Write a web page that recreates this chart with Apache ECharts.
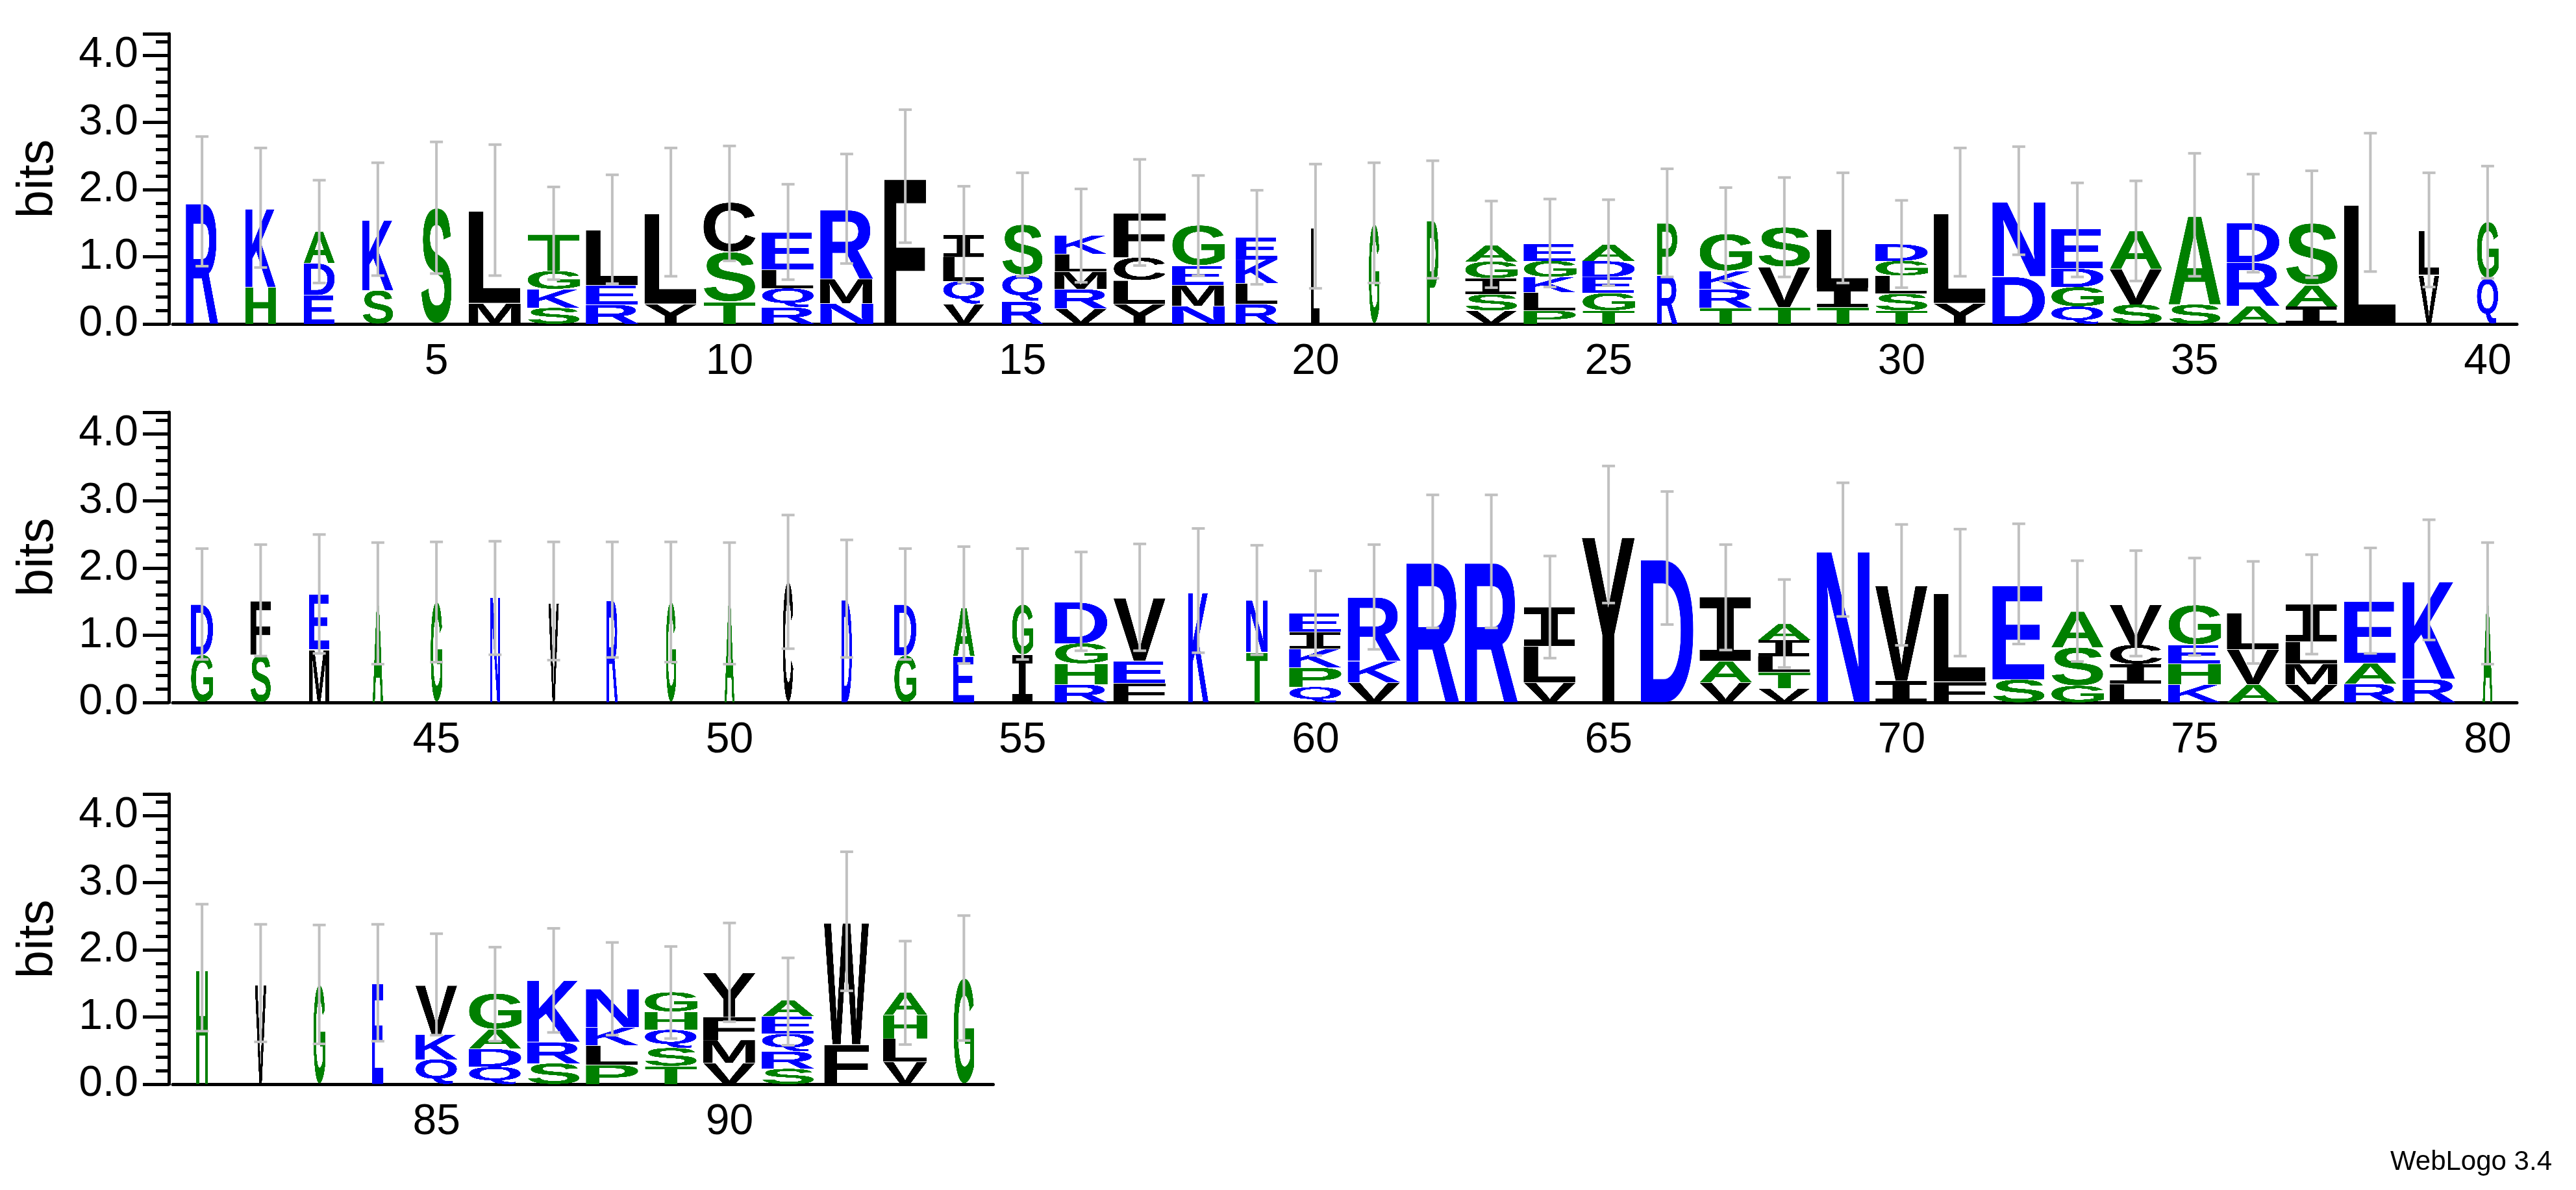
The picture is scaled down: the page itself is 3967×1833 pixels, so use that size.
<!DOCTYPE html>
<html>
<head>
<meta charset="utf-8">
<script src="https://cdn.jsdelivr.net/npm/echarts@6/dist/echarts.min.js"></script>
<style>html,body{margin:0;padding:0;background:#fff}#chart{width:3967px;height:1833px}</style>
</head>
<body>
<div id="chart"></div>
<script>
// letters in each column, bottom to top, with their heights in bits
var columnLetters = ['R','HK','EDA','SK','S','ML','SKGT','REL','YL','TSC',
  'RQLE','NMR','F','VQLI','RQS','VRMLK','YLCF','NMEG','RLKE','L',
  'G','P','VSIGA','PLKGE','TGEDA','RP','TRKG','TVS','TIL','TSLGD',
  'YL','DN','QGDE','SVA','SA','ARD','IAS','L','VL','QG',
  'GD','SF','ME','A','G','N','V','R','G','A',
  'C','D','GD','EA','IG','RHGD','FEV','K','TN','QPKIE',
  'VKR','R','R','VLI','Y','D','VAI','VTLIA','N','IV',
  'FL','SE','GSA','LICV','KHEG','AVL','VMLI','RAE','RK','A',
  'H','V','G','E','QKV','QDAG','SRK','PLKN','TSQHG','VMFY','SRQEA','FW','VLHA','G'];
var columnHeights = [[1.82],[.55,1.18],[.43,.48,.47],[.5,1.06],[1.73],[.31,1.39],[.24,.28,.27,.55],[.29,.29,.83],[.3,1.36],[.33,.74,.74],
  [.25,.28,.28,.56],[.31,.36,1.04],[2.19],[.3,.34,.36,.33],[.34,.39,.75],[.23,.29,.26,.26,.28],[.3,.35,.34,.67],[.27,.31,.29,.6],[.3,.31,.35,.33],[1.45],
  [1.49],[1.56],[.2,.24,.24,.25,.24],[.2,.27,.23,.24,.25],[.2,.26,.24,.24,.24],[.73,.78],[.24,.28,.27,.55],[.25,.6,.59],[.25,.29,.88],[.2,.25,.27,.22,.25],
  [.31,1.35],[.71,1.12],[.26,.29,.28,.59],[.29,.53,.57],[.29,1.33],[.27,.65,.59],[.26,.32,.92],[1.8],[.73,.67],[.68,.84],
  [.71,.76],[.71,.81],[.79,.83],[1.47],[1.5],[1.59],[1.5],[1.54],[1.5],[1.47],
  [1.8],[1.55],[.7,.77],[.69,.73],[.71,.75],[.27,.31,.3,.62],[.29,.33,.95],[1.66],[.75,.78],[.23,.29,.28,.25,.28],
  [.3,.32,.96],[2.11],[2.11],[.3,.54,.58],[2.5],[2.16],[.3,.32,.95],[.21,.24,.24,.24,.24],[2.28],[.32,1.44],
  [.31,1.33],[.34,1.42],[.25,.57,.54],[.28,.29,.29,.6],[.27,.31,.28,.59],[.27,.52,.55],[.27,.31,.33,.55],[.28,.31,.93],[.35,1.47],[1.47],
  [1.72],[1.5],[1.48],[1.52],[.37,.37,.74],[.26,.27,.29,.53],[.31,.32,.93],[.29,.29,.27,.57],[.27,.27,.27,.27,.29],[.32,.34,.34,.67],[.23,.26,.26,.26,.24],[.59,1.84],[.34,.34,.35,.34],[1.58]];
// relative glyph width per column
var columnWidths = [.61,.57,.59,.59,.59,1,1,1,1,1,
  1,1,.79,.79,.78,1,1,1,.81,.17,
  .2,.22,1,1,1,.39,1,1,1,1,
  1,1,1,1,1,1,1,1,.39,.41,
  .42,.39,.39,.2,.22,.19,.2,.21,.19,.19,
  .2,.2,.42,.41,.4,1,1,.39,.41,1,
  1,1,1,1,1,1,1,1,1,1,
  1,1,1,1,1,1,1,1,1,.19,
  .22,.22,.22,.22,.8,1,1,1,1,1,1,.85,.84,.39];
var errLow = [.86,.84,.61,.72,.75,.72,.66,.6,.71,.94,
  .66,.9,1.21,.62,.71,.62,.87,.72,.59,.53,
  .61,.68,.54,.55,.57,.7,.64,.7,.61,.54,
  .71,1.03,.7,.64,.71,.77,.69,.78,.55,.68,
  .64,.69,.73,.57,.6,.71,.63,.67,.6,.57,
  .8,.67,.64,.58,.64,.77,.77,.74,.71,.7,
  .79,1.11,1.11,.66,1.48,1.16,.78,.52,1.28,.85,
  .69,.87,.61,.69,.7,.58,.72,.73,.93,.57,
  .79,.63,.6,.64,.73,.64,.77,.73,.68,.93,.58,1.39,.59,.65];
var errHigh = [2.79,2.62,2.14,2.4,2.71,2.67,2.04,2.22,2.62,2.65,
  2.08,2.53,3.19,2.05,2.25,2.01,2.45,2.21,1.99,2.38,
  2.4,2.43,1.83,1.86,1.85,2.31,2.03,2.18,2.25,1.84,
  2.62,2.64,2.1,2.13,2.54,2.23,2.28,2.84,2.25,2.35,
  2.29,2.35,2.5,2.38,2.39,2.4,2.39,2.39,2.39,2.38,
  2.79,2.42,2.29,2.32,2.29,2.24,2.36,2.59,2.34,1.96,
  2.35,3.09,3.09,2.18,3.52,3.14,2.35,1.83,3.27,2.65,
  2.58,2.66,2.11,2.26,2.15,2.1,2.2,2.3,2.72,2.38,
  2.68,2.38,2.37,2.38,2.24,2.04,2.32,2.11,2.05,2.4,1.88,3.46,2.13,2.51];
var rowStarts = [1, 41, 81];
var rowEnds = [40, 80, 94];

var BLUE = '#0000ff', GREEN = '#008000', BLACK = '#000000';
var letterColor = {R:BLUE,K:BLUE,D:BLUE,E:BLUE,N:BLUE,Q:BLUE,
  G:GREEN,S:GREEN,T:GREEN,A:GREEN,H:GREEN,P:GREEN,
  L:BLACK,M:BLACK,I:BLACK,V:BLACK,F:BLACK,Y:BLACK,C:BLACK,W:BLACK};

// each glyph rendered once, cropped to its ink box, then stretched into its cell
var glyphCache = {};
function glyph(ch) {
  if (glyphCache[ch]) return glyphCache[ch];
  var font = ch === 'I' ? 'bold 400px "DejaVu Sans Mono"' : 'bold 400px "Liberation Sans"';
  var c = document.createElement('canvas');
  var ctx = c.getContext('2d');
  ctx.font = font;
  var m = ctx.measureText(ch);
  var w = Math.ceil(m.actualBoundingBoxLeft + m.actualBoundingBoxRight);
  var h = Math.ceil(m.actualBoundingBoxAscent + m.actualBoundingBoxDescent);
  c.width = w; c.height = h;
  ctx = c.getContext('2d');
  ctx.font = font;
  ctx.fillStyle = letterColor[ch];
  ctx.textBaseline = 'alphabetic';
  ctx.fillText(ch, m.actualBoundingBoxLeft, m.actualBoundingBoxAscent);
  glyphCache[ch] = c;
  return c;
}

var gridTops = [52, 635, 1223];
var colW = 90.25, gridLeft = 266, gridH = 447;
var grids = [], xAxes = [], yAxes = [], series = [];

rowStarts.forEach(function (start, r) {
  var end = rowEnds[r];
  var cats = [];
  for (var p = start; p <= end; p++) cats.push(String(p));
  grids.push({left: gridLeft, top: gridTops[r], width: cats.length * colW, height: gridH});
  var axisFont = {fontFamily: 'Liberation Sans', fontSize: 66, color: '#000'};
  xAxes.push({type: 'category', gridIndex: r, data: cats, boundaryGap: true,
    axisLine: {lineStyle: {color: '#000', width: 5}},
    axisTick: {alignWithLabel: true, length: 10, lineStyle: {color: '#000', width: 4}},
    axisLabel: Object.assign({margin: 26, interval: function (i, v) { return +v % 5 === 0; }}, axisFont)});
  xAxes.push({type: 'category', gridIndex: r, data: cats, boundaryGap: true,
    axisLine: {show: false},
    axisTick: {alignWithLabel: true, length: 20, interval: function (i, v) { return +v % 5 === 0; }, lineStyle: {color: '#000', width: 4}},
    axisLabel: {show: false}});
  yAxes.push({type: 'value', gridIndex: r, min: 0, max: 4.32, interval: 1, offset: 6,
    name: 'bits', nameLocation: 'middle', nameGap: 162,
    nameTextStyle: {fontFamily: 'Liberation Sans', fontSize: 78, color: '#000'},
    splitLine: {show: false},
    axisLine: {show: true, lineStyle: {color: '#000', width: 5}},
    axisTick: {show: true, length: 40, lineStyle: {color: '#000', width: 5}},
    minorTick: {show: true, splitNumber: 5, length: 20, lineStyle: {color: '#000', width: 5}},
    axisLabel: Object.assign({margin: 47, showMaxLabel: false,
      formatter: function (v) { return v.toFixed(1); }}, axisFont)});

  var segs = [], bars = [];
  for (var q = start; q <= end; q++) {
    var letters = columnLetters[q - 1], hs = columnHeights[q - 1], y = 0;
    for (var j = 0; j < letters.length; j++) {
      segs.push({cat: q - start, y0: y, y1: y + hs[j], ch: letters[j], wf: columnWidths[q - 1]});
      y += hs[j];
    }
    bars.push([q - start, errLow[q - 1], errHigh[q - 1]]);
  }
  series.push({type: 'custom', xAxisIndex: 2 * r, yAxisIndex: r, silent: true,
    data: segs.map(function (s) { return [s.cat, s.y0, s.y1]; }),
    renderItem: function (params, api) {
      var s = segs[params.dataIndex];
      var bottom = api.coord([s.cat, s.y0]);
      var top = api.coord([s.cat, s.y1]);
      var w = api.size([1, 0])[0] * 0.91 * s.wf;
      return {type: 'image', style: {image: glyph(s.ch), x: bottom[0] - w / 2, y: top[1],
        width: w, height: bottom[1] - top[1]}};
    }});
  series.push({type: 'custom', xAxisIndex: 2 * r, yAxisIndex: r, silent: true, z: 5,
    data: bars,
    renderItem: function (params, api) {
      var lo = api.coord([api.value(0), api.value(1)]);
      var hi = api.coord([api.value(0), api.value(2)]);
      var st = {stroke: '#c0c0c0', lineWidth: 4};
      return {type: 'group', children: [
        {type: 'line', shape: {x1: lo[0], y1: lo[1], x2: hi[0], y2: hi[1]}, style: st},
        {type: 'line', shape: {x1: lo[0] - 10, y1: lo[1], x2: lo[0] + 10, y2: lo[1]}, style: st},
        {type: 'line', shape: {x1: hi[0] - 10, y1: hi[1], x2: hi[0] + 10, y2: hi[1]}, style: st}
      ]};
    }});
});

var chart = echarts.init(document.getElementById('chart'));
chart.setOption({
  animation: false,
  backgroundColor: '#fff',
  grid: grids, xAxis: xAxes, yAxis: yAxes, series: series,
  graphic: [{type: 'text', right: 37, bottom: 22,
    style: {text: 'WebLogo 3.4', fontFamily: 'Liberation Sans', fontSize: 42, fill: '#000'}}]
});
</script>
</body>
</html>
